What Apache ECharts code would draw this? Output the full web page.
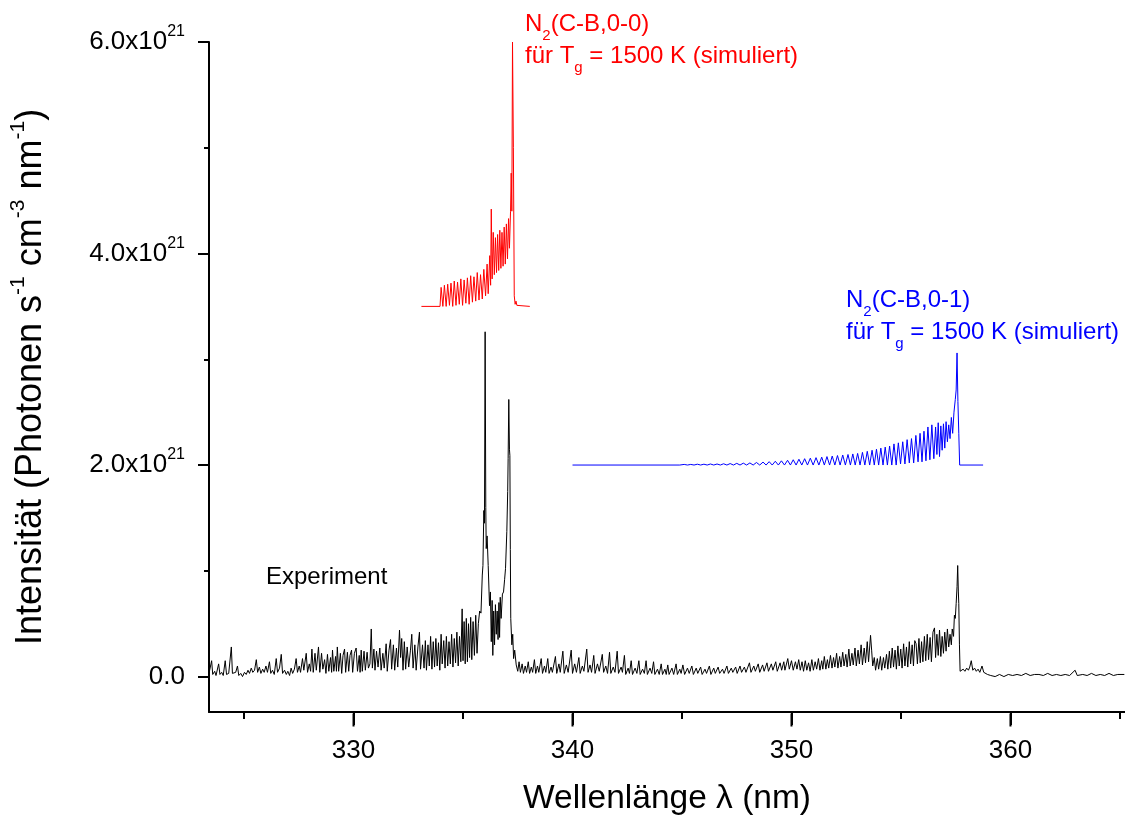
<!DOCTYPE html>
<html>
<head>
<meta charset="utf-8">
<script src="https://cdn.jsdelivr.net/npm/echarts@6/dist/echarts.min.js"></script>
<style>
  html, body { margin: 0; padding: 0; background: #fff; }
  #chart { width: 1125px; height: 821px; }
</style>
</head>
<body>
<div id="chart"></div>
<script>
// intensities are in units of 1e21 photons s^-1 cm^-3 nm^-1
const wavelengthTicks = [330, 340, 350, 360];
const wavelengthMinorTicks = [325, 335, 345, 355, 365];
const intensityTicks = [0, 2, 4, 6];
const intensityMinorTicks = [1, 3, 5];

// measured spectrum [wavelength nm, intensity]
const experimentSpectrum = [
  [323.40,0.03],[323.46,0.02],[323.52,0.15],[323.57,0.02],[323.66,0.05],[323.72,0.01],[323.84,0.12],[323.90,0.02],
  [323.98,0.04],[324.05,0.01],[324.14,0.15],[324.20,0.02],[324.30,0.03],[324.42,0.28],[324.47,0.03],[324.55,0.02],
  [324.62,0.04],[324.70,0.10],[324.76,0.01],[324.85,0.03],[324.93,0.00],[325.02,0.04],[325.10,0.02],[325.18,0.06],
  [325.25,0.03],[325.33,0.08],[325.40,0.04],[325.48,0.06],[325.56,0.16],[325.62,0.04],[325.70,0.09],[325.77,0.03],
  [325.85,0.07],[325.92,0.04],[326.00,0.10],[326.07,0.04],[326.16,0.14],[326.22,0.03],[326.30,0.06],[326.38,0.02],
  [326.47,0.17],[326.53,0.04],[326.62,0.08],[326.70,0.21],[326.76,0.03],[326.85,0.06],[326.93,0.02],[327.00,0.05],
  [327.08,0.01],[327.15,0.08],[327.22,0.03],[327.30,0.07],[327.38,0.17],[327.44,0.04],[327.52,0.10],[327.58,0.04],
  [327.67,0.17],[327.73,0.06],[327.84,0.22],[327.90,0.04],[327.98,0.12],[328.04,0.05],[328.10,0.26],[328.16,0.04],
  [328.24,0.22],[328.30,0.06],[328.40,0.28],[328.46,0.04],[328.54,0.22],[328.60,0.07],[328.68,0.16],[328.74,0.03],
  [328.81,0.21],[328.87,0.05],[328.95,0.18],[329.00,0.04],[329.04,0.25],[329.10,0.05],[329.18,0.19],[329.22,0.05],
  [329.26,0.28],[329.32,0.05],[329.40,0.22],[329.46,0.03],[329.52,0.20],[329.59,0.26],[329.64,0.04],[329.72,0.23],
  [329.78,0.05],[329.84,0.20],[329.91,0.25],[329.96,0.04],[330.04,0.22],[330.12,0.27],[330.18,0.05],[330.26,0.20],
  [330.30,0.04],[330.35,0.25],[330.40,0.05],[330.48,0.24],[330.54,0.06],[330.62,0.23],[330.68,0.08],[330.75,0.12],
  [330.81,0.45],[330.86,0.08],[330.93,0.26],[330.98,0.06],[331.05,0.24],[331.12,0.09],[331.20,0.27],[331.26,0.06],
  [331.34,0.22],[331.40,0.08],[331.49,0.31],[331.54,0.05],[331.62,0.25],[331.69,0.35],[331.74,0.07],[331.82,0.30],
  [331.88,0.06],[331.96,0.27],[332.02,0.09],[332.10,0.44],[332.15,0.18],[332.20,0.36],[332.26,0.06],[332.32,0.33],
  [332.38,0.07],[332.45,0.28],[332.52,0.09],[332.60,0.25],[332.66,0.40],[332.72,0.08],[332.80,0.30],[332.86,0.06],
  [332.94,0.28],[333.01,0.42],[333.06,0.07],[333.15,0.30],
  [333.22,0.08],[333.28,0.34],[333.33,0.06],[333.40,0.30],[333.46,0.10],[333.52,0.38],[333.58,0.07],[333.64,0.33],
  [333.70,0.09],[333.76,0.36],[333.82,0.10],[333.88,0.32],[333.94,0.06],[334.00,0.40],[334.05,0.12],[334.12,0.34],
  [334.18,0.08],[334.24,0.38],[334.30,0.10],[334.36,0.33],[334.42,0.12],[334.48,0.40],[334.54,0.09],[334.60,0.36],
  [334.66,0.13],[334.72,0.42],[334.78,0.10],[334.84,0.38],[334.90,0.14],[334.96,0.64],[335.00,0.15],[335.05,0.52],
  [335.10,0.12],[335.15,0.55],[335.20,0.14],[335.25,0.50],[335.30,0.18],[335.35,0.56],[335.40,0.16],[335.46,0.52],
  [335.52,0.20],[335.58,0.58],[335.64,0.22],[335.70,0.50],[335.76,0.62],[335.82,0.60],[335.88,0.96],[335.91,1.05],
  [335.95,1.57],[335.98,1.45],[336.01,3.26],[336.04,1.60],[336.06,1.21],[336.10,1.33],[336.15,1.05],[336.21,0.67],
  [336.25,0.80],[336.29,0.33],[336.33,0.72],[336.36,0.20],[336.40,0.62],[336.44,0.30],[336.48,0.68],[336.52,0.40],
  [336.56,0.62],[336.60,0.35],[336.64,0.70],[336.67,0.37],[336.70,0.75],[336.74,0.55],[336.80,0.78],[336.85,0.80],
  [336.90,0.92],[336.94,1.02],[337.00,1.37],[337.04,1.75],[337.06,2.06],[337.09,2.62],[337.12,2.15],[337.14,2.09],
  [337.16,1.20],[337.18,0.55],[337.23,0.30],[337.27,0.40],[337.31,0.17],[337.36,0.25],[337.43,0.11],
  [337.50,0.05],[337.56,0.14],[337.62,0.04],[337.70,0.12],[337.76,0.03],[337.84,0.10],[337.90,0.04],[337.98,0.14],
  [338.04,0.03],[338.12,0.09],[338.18,0.04],[338.26,0.16],[338.32,0.03],[338.40,0.10],[338.46,0.04],[338.57,0.17],
  [338.63,0.03],[338.72,0.10],[338.78,0.04],[338.87,0.17],[338.93,0.03],[339.02,0.09],[339.08,0.04],[339.22,0.19],
  [339.28,0.03],[339.38,0.12],[339.44,0.04],[339.56,0.24],[339.62,0.03],[339.72,0.11],[339.80,0.04],[339.94,0.25],
  [340.00,0.03],[340.10,0.12],[340.18,0.04],[340.29,0.18],[340.35,0.03],[340.45,0.10],[340.52,0.05],[340.65,0.26],
  [340.71,0.04],[340.80,0.11],[340.87,0.04],[340.97,0.20],[341.03,0.03],[341.14,0.12],[341.22,0.05],[341.36,0.21],
  [341.42,0.04],[341.52,0.10],[341.60,0.03],[341.69,0.23],[341.75,0.03],[341.86,0.09],[341.94,0.04],[342.04,0.24],
  [342.10,0.03],[342.22,0.09],[342.28,0.04],[342.37,0.20],[342.43,0.02],[342.54,0.08],[342.60,0.03],[342.68,0.15],
  [342.74,0.02],[342.86,0.08],[342.94,0.03],[343.03,0.15],[343.09,0.02],[343.20,0.07],[343.28,0.03],[343.36,0.15],
  [343.42,0.02],[343.54,0.08],[343.62,0.03],[343.70,0.14],[343.76,0.02],[343.88,0.07],[343.96,0.02],[344.05,0.12],
  [344.11,0.02],[344.22,0.07],[344.28,0.02],[344.35,0.11],[344.41,0.02],[344.54,0.08],[344.62,0.02],[344.73,0.12],
  [344.79,0.02],[344.90,0.07],[344.96,0.03],[345.04,0.11],[345.12,0.02],[345.25,0.08],[345.33,0.03],[345.45,0.10],
  [345.52,0.02],[345.65,0.08],[345.72,0.03],[345.85,0.09],[345.92,0.02],[346.05,0.07],[346.12,0.03],[346.25,0.10],
  [346.32,0.02],[346.45,0.08],[346.52,0.03],[346.65,0.09],[346.72,0.03],[346.85,0.07],[346.92,0.03],[347.05,0.10],
  [347.12,0.03],[347.25,0.08],[347.32,0.04],[347.45,0.09],[347.52,0.03],[347.65,0.10],[347.72,0.04],[347.85,0.09],
  [347.92,0.04],[348.08,0.13],[348.15,0.04],[348.28,0.10],[348.35,0.05],[348.48,0.12],[348.55,0.04],[348.68,0.11],
  [348.75,0.05],[348.88,0.13],[348.95,0.05],[349.08,0.12],[349.15,0.06],[349.28,0.14],[349.35,0.05],[349.48,0.13],
  [349.55,0.06],[349.65,0.14],[349.70,0.06],[349.83,0.17],[349.90,0.07],[350.00,0.15],[350.08,0.06],[350.18,0.14],
  [350.25,0.07],[350.33,0.16],
  [350.40,0.06],[350.48,0.14],[350.55,0.05],[350.63,0.15],[350.70,0.06],[350.78,0.13],[350.85,0.05],[350.93,0.16],
  [351.00,0.06],[351.08,0.14],[351.15,0.07],[351.23,0.17],[351.30,0.06],[351.38,0.15],[351.43,0.07],[351.50,0.19],
  [351.57,0.07],[351.64,0.16],[351.70,0.08],[351.78,0.20],[351.85,0.08],[351.92,0.18],[351.98,0.09],[352.06,0.22],
  [352.12,0.08],[352.20,0.19],[352.26,0.09],[352.34,0.23],[352.40,0.10],[352.48,0.21],[352.54,0.09],[352.62,0.26],
  [352.68,0.10],[352.76,0.22],[352.82,0.11],[352.90,0.27],[352.96,0.10],[353.04,0.25],[353.10,0.12],[353.18,0.30],
  [353.24,0.11],[353.32,0.27],[353.38,0.13],[353.46,0.33],[353.52,0.14],[353.61,0.39],[353.66,0.25],[353.71,0.10],
  [353.78,0.18],[353.84,0.06],[353.92,0.17],[353.98,0.07],[354.06,0.19],[354.12,0.06],[354.20,0.18],[354.26,0.08],
  [354.34,0.21],[354.40,0.07],[354.47,0.24],[354.53,0.08],[354.60,0.27],[354.66,0.09],[354.73,0.25],[354.79,0.07],
  [354.86,0.29],[354.92,0.10],[354.99,0.26],[355.05,0.08],[355.12,0.31],[355.18,0.10],[355.25,0.28],[355.31,0.09],
  [355.38,0.33],[355.44,0.12],[355.51,0.30],[355.57,0.10],[355.63,0.34],[355.69,0.31],[355.75,0.12],[355.82,0.36],
  [355.88,0.13],[355.94,0.33],[356.00,0.14],[356.07,0.38],[356.13,0.15],[356.20,0.40],[356.26,0.16],[356.33,0.37],
  [356.39,0.14],[356.46,0.42],[356.53,0.46],[356.58,0.18],[356.64,0.40],[356.70,0.20],[356.76,0.44],[356.82,0.19],
  [356.88,0.38],[356.94,0.22],[357.00,0.42],[357.06,0.24],[357.12,0.45],[357.18,0.28],[357.24,0.40],[357.30,0.30],
  [357.34,0.45],[357.40,0.38],[357.44,0.58],[357.48,0.55],[357.52,0.69],[357.56,0.85],[357.59,1.05],[357.62,0.80],
  [357.64,0.69],[357.67,0.30],[357.70,0.05],[357.76,0.04],[357.84,0.07],[357.92,0.05],[358.00,0.08],[358.08,0.06],
  [358.14,0.09],[358.21,0.15],[358.28,0.06],[358.36,0.08],[358.44,0.05],[358.52,0.07],[358.60,0.04],[358.70,0.10],
  [358.78,0.04],[358.86,0.05],[358.95,0.02],
  [359.10,0.01],[359.30,0.00],[359.50,0.02],[359.70,0.00],[359.90,0.02],[360.10,0.01],[360.30,0.02],[360.50,0.01],
  [360.70,0.03],[360.90,0.01],[361.10,0.02],[361.30,0.02],[361.50,0.01],[361.70,0.03],[361.90,0.01],[362.10,0.02],
  [362.30,0.01],[362.50,0.02],[362.70,0.01],[362.95,0.06],[363.05,0.01],[363.30,0.02],[363.50,0.01],[363.70,0.03],
  [363.90,0.01],[364.10,0.02],[364.30,0.01],[364.50,0.03],[364.70,0.01],[364.90,0.02],[365.20,0.02]
];

// simulated N2(C-B,0-0), drawn on a 3.5 offset
const band00Spectrum = [
  [333.10,3.50],[333.95,3.50],[334.00,3.68],[334.08,3.50],[334.15,3.70],[334.23,3.50],[334.30,3.71],[334.38,3.51],
  [334.45,3.72],[334.53,3.50],[334.60,3.74],[334.68,3.51],[334.75,3.73],[334.83,3.52],[334.90,3.76],[334.98,3.51],
  [335.05,3.75],[335.13,3.53],[335.20,3.77],[335.28,3.52],[335.35,3.79],[335.43,3.54],[335.50,3.78],[335.58,3.55],
  [335.65,3.82],[335.73,3.56],[335.80,3.80],[335.88,3.57],[335.95,3.85],[336.03,3.60],[336.10,3.90],[336.15,3.62],
  [336.22,3.98],[336.26,3.70],[336.29,4.42],[336.33,3.76],[336.38,4.20],[336.43,3.80],[336.48,4.15],[336.53,3.82],
  [336.58,4.18],[336.63,3.84],[336.68,4.22],[336.73,3.86],[336.78,4.20],[336.83,3.88],[336.88,4.25],[336.93,3.90],
  [336.98,4.28],[337.03,3.95],[337.08,4.33],[337.12,4.05],[337.17,4.40],[337.20,4.76],[337.23,4.40],[337.26,6.00],
  [337.30,5.00],[337.34,3.60],[337.38,3.52],[337.42,3.55],[337.46,3.51],[337.55,3.50],[338.05,3.50]
];

// simulated N2(C-B,0-1), drawn on a 2.0 offset
const band01Spectrum = [
  [340.00,2.00],[344.90,2.00],[345.10,2.006],[345.25,2.00],[345.40,2.006],[345.55,2.00],[345.70,2.008],[345.85,2.00],
  [346.00,2.008],[346.15,2.00],[346.30,2.01],[346.45,2.00],[346.60,2.01],[346.75,2.00],[346.90,2.012],[347.05,2.00],
  [347.20,2.014],[347.35,2.00],[347.50,2.016],[347.65,2.00],[347.80,2.018],[347.95,2.00],[348.10,2.02],[348.25,2.00],
  [348.40,2.024],[348.55,2.00],[348.70,2.028],[348.84,2.00],[348.98,2.032],[349.12,2.00],[349.26,2.036],[349.40,2.00],
  [349.54,2.04],[349.68,2.00],[349.82,2.045],[349.95,2.00],[350.08,2.05],[350.21,2.00],[350.34,2.055],[350.47,2.00],
  [350.60,2.06],[350.73,2.00],[350.86,2.065],[350.99,2.00],[351.12,2.07],[351.25,2.00],[351.38,2.075],[351.50,2.00],
  [351.62,2.08],[351.74,2.00],[351.86,2.085],[351.98,2.00],[352.10,2.09],[352.22,2.00],[352.34,2.095],[352.46,2.00],
  [352.58,2.10],[352.69,2.00],[352.80,2.105],[352.91,2.00],[353.02,2.11],[353.13,2.00],[353.24,2.12],[353.35,2.00],
  [353.46,2.13],[353.57,2.00],[353.68,2.14],[353.78,2.00],[353.88,2.15],[353.98,2.00],[354.08,2.16],[354.18,2.00],
  [354.28,2.17],[354.38,2.00],[354.48,2.18],[354.58,2.00],[354.68,2.20],[354.78,2.00],[354.88,2.21],[354.98,2.01],
  [355.08,2.22],[355.18,2.01],[355.28,2.24],[355.38,2.02],[355.48,2.25],[355.58,2.02],[355.68,2.28],[355.78,2.03],
  [355.87,2.30],[355.96,2.03],[356.05,2.32],[356.14,2.04],[356.23,2.36],[356.32,2.05],[356.41,2.38],[356.50,2.06],
  [356.58,2.36],[356.64,2.10],[356.70,2.40],[356.76,2.08],[356.82,2.37],[356.88,2.14],[356.94,2.39],[357.00,2.16],
  [357.06,2.41],[357.12,2.22],[357.18,2.38],[357.24,2.25],[357.30,2.45],[357.36,2.30],[357.42,2.50],[357.48,2.62],
  [357.52,2.71],[357.56,3.06],[357.60,2.60],[357.64,2.30],[357.68,2.00],[358.75,2.00]
];

const FONT = '"Liberation Sans", Arial, sans-serif';

// text with subscripts, placed as a title box
function note(left, top, text, color) {
  return {
    left: left, top: top, padding: 0, itemGap: 0,
    text: text,
    textStyle: {
      color: color, fontSize: 24, fontFamily: FONT, fontWeight: 'normal',
      rich: {
        b: { color: color, fontSize: 24, fontFamily: FONT, verticalAlign: 'top' },
        s: { color: color, fontSize: 15, fontFamily: FONT, verticalAlign: 'top', padding: [16, 0, 0, 0] }
      }
    }
  };
}

const chart = echarts.init(document.getElementById('chart'), null, { renderer: 'canvas' });

const axisPen = { color: '#000', width: 2 };
const X_MIN = 323.4, X_MAX = 365.23;
const Y_MIN = -0.335, Y_MAX = 6;
const GRID = { left: 209, right: 0, top: 42, bottom: 107.5 };

chart.setOption({
  animation: false,
  backgroundColor: '#fff',
  title: [
    note(525, 12, '{b|N}{s|2}{b|(C-B,0-0)}', '#ff0000'),
    note(525, 44, '{b|für T}{s|g}{b| = 1500 K (simuliert)}', '#ff0000'),
    note(846, 288, '{b|N}{s|2}{b|(C-B,0-1)}', '#0000ff'),
    note(846, 320, '{b|für T}{s|g}{b| = 1500 K (simuliert)}', '#0000ff'),
    {
      left: 266, top: 564, padding: 0, text: 'Experiment',
      textStyle: { color: '#000', fontSize: 24, fontFamily: FONT, fontWeight: 'normal', lineHeight: 26 }
    }
  ],
  grid: GRID,
  xAxis: [{
    // axis line and short ticks
    type: 'value', min: X_MIN, max: X_MAX, position: 'bottom',
    axisLine: { show: true, onZero: false, lineStyle: axisPen },
    axisTick: { show: true, length: 7, lineStyle: axisPen, customValues: wavelengthMinorTicks },
    axisLabel: { show: false },
    splitLine: { show: false }
  }, {
    // labels and name
    type: 'value', min: X_MIN, max: X_MAX, position: 'bottom',
    axisLine: { show: false, onZero: false },
    axisTick: { show: true, length: 13, lineStyle: axisPen, customValues: wavelengthTicks },
    axisLabel: { customValues: wavelengthTicks, color: '#000', fontSize: 26, fontFamily: FONT, margin: 26 },
    splitLine: { show: false },
    name: 'Wellenlänge λ (nm)', nameLocation: 'middle', nameGap: 70,
    nameTextStyle: { color: '#000', fontSize: 33.5, fontFamily: FONT, lineHeight: 34 }
  }],
  yAxis: [{
    type: 'value', min: Y_MIN, max: Y_MAX, position: 'left',
    axisLine: { show: true, onZero: false, lineStyle: axisPen },
    axisTick: { show: true, length: 11, lineStyle: axisPen, customValues: intensityTicks },
    axisLabel: {
      customValues: intensityTicks, color: '#000', fontSize: 26, fontFamily: FONT, margin: 24,
      formatter: function (v) {
        return v === 0 ? '0.0' : '{b|' + v.toFixed(1) + 'x10}{s|21}';
      },
      rich: {
        b: { fontSize: 26, lineHeight: 36, fontFamily: FONT, color: '#000' },
        s: { fontSize: 16, lineHeight: 15, verticalAlign: 'top', fontFamily: FONT, color: '#000' }
      }
    },
    splitLine: { show: false },
    name: 'Intensität (Photonen s{s|-1} cm{s|-3} nm{s|-1})',
    nameLocation: 'middle', nameRotate: 90, nameGap: 155,
    nameTextStyle: {
      color: '#000', fontSize: 36, fontFamily: FONT, lineHeight: 46,
      rich: { s: { fontSize: 21, lineHeight: 17, verticalAlign: 'top', fontFamily: FONT, color: '#000' } }
    }
  }, {
    type: 'value', min: Y_MIN, max: Y_MAX, position: 'left',
    axisLine: { show: false, onZero: false },
    axisTick: { show: true, length: 5, lineStyle: axisPen, customValues: intensityMinorTicks },
    axisLabel: { show: false },
    splitLine: { show: false }
  }],
  series: [{
    name: 'Experiment', type: 'line', data: experimentSpectrum,
    showSymbol: false, lineStyle: { color: '#000', width: 1 }, itemStyle: { color: '#000' }
  }, {
    name: 'N2(C-B,0-0)', type: 'line', data: band00Spectrum,
    showSymbol: false, lineStyle: { color: '#ff0000', width: 1 }, itemStyle: { color: '#ff0000' }
  }, {
    name: 'N2(C-B,0-1)', type: 'line', data: band01Spectrum,
    showSymbol: false, lineStyle: { color: '#0000ff', width: 1 }, itemStyle: { color: '#0000ff' }
  }]
});

// long wavelength ticks as small filled bars under the axis line
const plotW = 1125 - GRID.left - GRID.right;
const axisYpx = 821 - GRID.bottom;
const majorTickBars = wavelengthTicks.map(function (v) {
  let x = chart.convertToPixel({ xAxisIndex: 0 }, v);
  if (typeof x !== 'number' || !isFinite(x)) {
    x = GRID.left + (v - X_MIN) / (X_MAX - X_MIN) * plotW;
  }
  return {
    type: 'rect', silent: true, z: 100,
    shape: { x: x - 1, y: axisYpx, width: 2, height: 13 },
    style: { fill: '#000' }
  };
});
chart.setOption({ graphic: { elements: majorTickBars } });
</script>
</body>
</html>
